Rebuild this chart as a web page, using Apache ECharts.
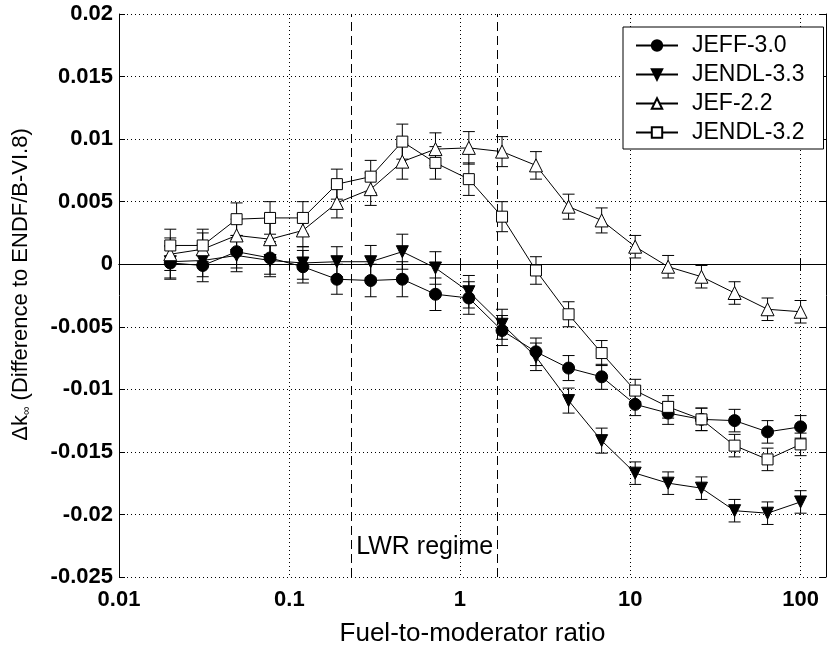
<!DOCTYPE html>
<html><head><meta charset="utf-8">
<script src="https://cdn.jsdelivr.net/npm/echarts@6/dist/echarts.min.js"></script>
<style>html,body{margin:0;padding:0;background:#fff}#c{width:833px;height:646px}</style>
</head><body><div id="c"></div>
<script>
// Fuel-to-moderator ratios (x)
const ratios = [0.02, 0.031, 0.049, 0.077, 0.12, 0.19, 0.30, 0.46, 0.72, 1.13, 1.77, 2.8, 4.35, 6.8, 10.7, 16.7, 26.2, 41, 64, 100];
// Delta k-inf values
const jeff30  = [0.0001, -0.0001, 0.0010, 0.0005, -0.0002, -0.0012, -0.0013, -0.0012, -0.0024, -0.0027, -0.0053, -0.0070, -0.0083, -0.0090, -0.0112, -0.0119, -0.0124, -0.0125, -0.0134, -0.0130];
const jendl33 = [0.0002, 0.0003, 0.0007, 0.0003, 0.0001, 0.0002, 0.0002, 0.0010, -0.0003, -0.0022, -0.0048, -0.0074, -0.0109, -0.0141, -0.0167, -0.0175, -0.0179, -0.0197, -0.0199, -0.0190];
const jef22   = [0.0008, 0.0012, 0.0023, 0.0020, 0.0027, 0.0049, 0.0060, 0.0082, 0.0092, 0.0093, 0.0090, 0.0079, 0.0046, 0.0035, 0.0014, -0.0002, -0.0010, -0.0023, -0.0036, -0.0038];
const jendl32 = [0.0015, 0.0015, 0.0036, 0.0037, 0.0037, 0.0064, 0.0070, 0.0098, 0.0081, 0.0068, 0.0038, -0.0005, -0.0040, -0.0071, -0.0101, -0.0114, -0.0124, -0.0145, -0.0156, -0.0144];
// error bar half-widths
const errs = [0.0013, 0.0013, 0.0013, 0.0013, 0.0013, 0.0012, 0.0013, 0.0014, 0.0013, 0.0013, 0.0012, 0.0011, 0.0010, 0.0010, 0.0009, 0.0009, 0.0009, 0.0009, 0.0009, 0.0009];
// annotations
const lwrBounds = [0.235, 1.65];
const lwrLabel = 'LWR regime';
// axes
const xTickLabels = ['0.01', '0.1', '1', '10', '100'];
const yTickLabels = ['-0.025', '-0.02', '-0.015', '-0.01', '-0.005', '0', '0.005', '0.01', '0.015', '0.02'];
const xTitle = 'Fuel-to-moderator ratio';
const seriesNames = ['JEFF-3.0', 'JENDL-3.3', 'JEF-2.2', 'JENDL-3.2'];

const FONT = 'Liberation Sans, Arial, Helvetica, sans-serif';
const chart = echarts.init(document.getElementById('c'), null, {renderer: 'canvas'});

function pairs(ys) { return ratios.map((x, i) => [x, ys[i]]); }
function errData(ys) { return ratios.map((x, i) => [x, ys[i], errs[i]]); }

function errRender(params, api) {
  const x = api.value(0), y = api.value(1), e = api.value(2);
  const hi = api.coord([x, y + e]), lo = api.coord([x, y - e]);
  const w = 6;
  const st = {stroke: '#000', lineWidth: 1};
  return {type: 'group', children: [
    {type: 'line', shape: {x1: hi[0], y1: hi[1], x2: lo[0], y2: lo[1]}, style: st},
    {type: 'line', shape: {x1: hi[0] - w, y1: hi[1], x2: hi[0] + w, y2: hi[1]}, style: st},
    {type: 'line', shape: {x1: lo[0] - w, y1: lo[1], x2: lo[0] + w, y2: lo[1]}, style: st}
  ]};
}

const styles = [
  {symbol: 'circle', size: 12, rot: 0, fill: '#000'},
  {symbol: 'triangle', size: 12, rot: 180, fill: '#000'},
  {symbol: 'triangle', size: 13, rot: 0, fill: '#fff'},
  {symbol: 'rect', size: 11, rot: 0, fill: '#fff'}
];
const allData = [jeff30, jendl33, jef22, jendl32];

const series = [];
allData.forEach((ys, k) => {
  series.push({
    type: 'custom', name: 'err' + k, renderItem: errRender, data: errData(ys),
    encode: {x: 0, y: 1}, z: 2, silent: true
  });
});
allData.forEach((ys, k) => {
  const s = styles[k];
  const ser = {
    type: 'line', name: seriesNames[k], data: pairs(ys), z: 3 + k,
    symbol: s.symbol, symbolSize: s.size, symbolRotate: s.rot, showAllSymbol: true,
    lineStyle: {color: '#000', width: 1},
    itemStyle: {color: s.fill, borderColor: '#000', borderWidth: 1},
    emphasis: {disabled: true}, silent: true
  };
  if (k === 0) {
    ser.markLine = {
      silent: true, symbol: 'none', animation: false,
      label: {show: false},
      lineStyle: {color: '#000', width: 1, type: [9, 5]},
      data: [
        {xAxis: lwrBounds[0]}, {xAxis: lwrBounds[1]},
        {yAxis: 0, lineStyle: {type: 'solid', color: '#000', width: 1}}
      ]
    };
    ser.markArea = {
      silent: true,
      itemStyle: {color: 'rgba(0,0,0,0)'},
      label: {show: true, position: 'insideBottom', distance: 17, color: '#000', fontSize: 25, fontFamily: FONT, formatter: lwrLabel},
      data: [[{xAxis: lwrBounds[0]}, {xAxis: lwrBounds[1]}]]
    };
  }
  series.push(ser);
});

function xFmt(v) {
  for (const t of xTickLabels) { if (Math.abs(Math.log10(v) - Math.log10(Number(t))) < 1e-6) return t; }
  return '';
}
function yFmt(v) {
  for (const t of yTickLabels) { if (Math.abs(v - Number(t)) < 1e-9) return t; }
  return '';
}

const axisLine = {show: true, lineStyle: {color: '#000', width: 1}};
const tickIn = {show: true, inside: true, length: 6, lineStyle: {color: '#000'}};
const dotted = {show: true, lineStyle: {color: '#000', width: 1, type: [1, 3]}};
const tickFont = {fontSize: 22, fontWeight: 'bold', fontFamily: FONT, color: '#000'};

chart.setOption({
  animation: false,
  backgroundColor: '#fff',
  grid: {left: 119, top: 14, right: 7, bottom: 69, containLabel: false, outerBoundsMode: 'none'},
  legend: {
    data: seriesNames, orient: 'vertical', left: 623, top: 27,
    itemWidth: 42, itemHeight: 13, itemGap: 6,
    padding: [7, 19, 5, 12],
    backgroundColor: '#fff', borderColor: '#000', borderWidth: 1,
    textStyle: {fontSize: 23, fontFamily: FONT, color: '#000', lineHeight: 23, padding: [0, 0, 0, 9]},
    selectedMode: false
  },
  xAxis: [
    {type: 'log', logBase: 10, min: 0.01, max: 141, position: 'bottom',
     axisLine, axisTick: tickIn, splitLine: dotted,
     axisLabel: Object.assign({formatter: xFmt, margin: 12, showMaxLabel: false}, tickFont),
     name: xTitle, nameLocation: 'middle', nameGap: 44,
     nameTextStyle: {fontSize: 26, fontFamily: FONT, color: '#000'}},
    {type: 'log', logBase: 10, min: 0.01, max: 141, position: 'top',
     axisLine, axisTick: tickIn, splitLine: {show: false}, axisLabel: {show: false}}
  ],
  yAxis: [
    {type: 'value', min: -0.025, max: 0.02, interval: 0.005, position: 'left',
     axisLine, axisTick: tickIn, splitLine: dotted,
     axisLabel: Object.assign({formatter: yFmt, margin: 6}, tickFont),
     name: '{a|Δk}{s|∞}{a| (Difference to ENDF/B-VI.8)}', nameLocation: 'middle', nameGap: 86, nameRotate: 90,
     nameTextStyle: {padding: [0, 0, 0, 22], rich: {
       a: {fontSize: 22, fontFamily: FONT, color: '#000'},
       s: {fontSize: 12, fontFamily: FONT, color: '#000', padding: [13, 0, 0, 0]}
     }}},
    {type: 'value', min: -0.025, max: 0.02, interval: 0.005, position: 'right',
     axisLine, axisTick: tickIn, splitLine: {show: false}, axisLabel: {show: false}}
  ],
  series
});
</script></body></html>
